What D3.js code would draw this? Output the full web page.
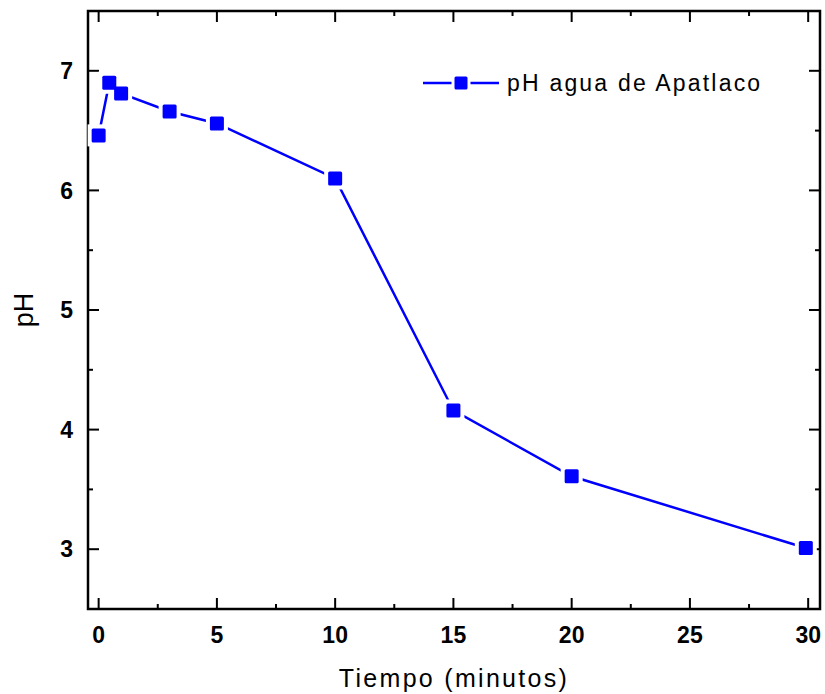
<!DOCTYPE html>
<html>
<head>
<meta charset="utf-8">
<script src="https://cdn.jsdelivr.net/npm/d3@7"></script>
<style>
  html, body { margin: 0; padding: 0; background: #fff; }
  svg { display: block; }
</style>
</head>
<body>
<svg id="chart" width="825" height="694"></svg>
<script>
// pH of Apatlaco water over time
const tiempo = [0, 0.45, 0.95, 3, 5, 10, 15, 20, 29.9];
const ph     = [6.46, 6.90, 6.81, 6.66, 6.56, 6.10, 4.16, 3.61, 3.01];
const xTicks = [0, 5, 10, 15, 20, 25, 30];
const yTicks = [3, 4, 5, 6, 7];
const serieNombre = "pH agua de Apatlaco";
const ejeX = "Tiempo (minutos)";
const ejeY = "pH";

const W = 825, H = 694;
const m = { left: 88, right: 5, top: 11, bottom: 85 };
const blue = "#0000ff";
const font = "'Liberation Sans', Arial, sans-serif";

const svg = d3.select("#chart");

const x = d3.scaleLinear().domain([-0.45, 30.5]).range([m.left, W - m.right]);
const y = d3.scaleLinear().domain([2.5, 7.5]).range([H - m.bottom, m.top]);

const x0 = m.left, x1 = W - m.right, y0 = H - m.bottom, y1 = m.top;

const xMinor = d3.range(0, 30.01, 2.5).filter(v => !xTicks.includes(v));
const yMinor = d3.range(3, 7.51, 0.5).filter(v => !yTicks.includes(v));

// inward ticks on all four sides
function ticks(g, axis, vals, len) {
  g.selectAll(null).data(vals).join("line")
    .attr("stroke", "#000").attr("stroke-width", 2)
    .each(function (v) {
      const s = d3.select(this);
      if (axis === "bottom") s.attr("x1", x(v)).attr("x2", x(v)).attr("y1", y0).attr("y2", y0 - len);
      if (axis === "top")    s.attr("x1", x(v)).attr("x2", x(v)).attr("y1", y1).attr("y2", y1 + len);
      if (axis === "left")   s.attr("y1", y(v)).attr("y2", y(v)).attr("x1", x0).attr("x2", x0 + len);
      if (axis === "right")  s.attr("y1", y(v)).attr("y2", y(v)).attr("x1", x1).attr("x2", x1 - len);
    });
}
const tg = svg.append("g");
["bottom", "top"].forEach(a => { ticks(tg, a, xTicks, 11); ticks(tg, a, xMinor, 5); });
["left", "right"].forEach(a => { ticks(tg, a, yTicks, 11); ticks(tg, a, yMinor, 5); });

// frame
svg.append("rect")
  .attr("x", x0).attr("y", y1).attr("width", x1 - x0).attr("height", y0 - y1)
  .attr("fill", "none").attr("stroke", "#000").attr("stroke-width", 2.5);

// tick labels
svg.append("g").selectAll("text").data(xTicks).join("text")
  .attr("x", d => x(d)).attr("y", y0 + 34)
  .attr("text-anchor", "middle")
  .attr("font-family", font).attr("font-weight", "bold").attr("font-size", 23)
  .text(d => d);

svg.append("g").selectAll("text").data(yTicks).join("text")
  .attr("x", x0 - 15).attr("y", d => y(d))
  .attr("dy", "0.36em")
  .attr("text-anchor", "end")
  .attr("font-family", font).attr("font-weight", "bold").attr("font-size", 23)
  .text(d => d);

// axis titles
svg.append("text")
  .attr("x", (x0 + x1) / 2).attr("y", 687)
  .attr("text-anchor", "middle")
  .attr("font-family", font).attr("font-size", 25)
  .attr("letter-spacing", 2.3)
  .text(ejeX);

svg.append("text")
  .attr("transform", `translate(33, ${(y0 + y1) / 2}) rotate(-90)`)
  .attr("text-anchor", "middle")
  .attr("font-family", font).attr("font-size", 27)
  .text(ejeY);

// series
const pts = tiempo.map((t, i) => [t, ph[i]]);
const line = d3.line().x(d => x(d[0])).y(d => y(d[1]));
const plot = svg.append("g");
plot.append("path").datum(pts)
  .attr("d", line).attr("fill", "none")
  .attr("stroke", blue).attr("stroke-width", 2.5);

const ms = 14, gap = 4;
// white halo keeps the line short of each marker
plot.selectAll("rect.halo").data(pts).join("rect").attr("class", "halo")
  .attr("x", d => x(d[0]) - ms / 2 - gap).attr("y", d => y(d[1]) - ms / 2 - gap)
  .attr("width", ms + 2 * gap).attr("height", ms + 2 * gap)
  .attr("fill", "#fff");
plot.selectAll("rect.mk").data(pts).join("rect").attr("class", "mk")
  .attr("x", d => x(d[0]) - ms / 2).attr("y", d => y(d[1]) - ms / 2)
  .attr("width", ms).attr("height", ms).attr("rx", 1.5)
  .attr("fill", blue);

// legend
const lg = svg.append("g").attr("transform", "translate(423, 83)");
lg.append("line").attr("x1", 0).attr("x2", 76).attr("y1", 0).attr("y2", 0)
  .attr("stroke", blue).attr("stroke-width", 2.5);
lg.append("rect").attr("x", 38 - 6.5 - 3).attr("y", -6.5 - 3).attr("width", 19).attr("height", 19).attr("fill", "#fff");
lg.append("rect").attr("x", 38 - 6.5).attr("y", -6.5).attr("width", 13).attr("height", 13).attr("rx", 1.5).attr("fill", blue);
lg.append("text").attr("x", 84).attr("y", 0).attr("dy", "0.36em")
  .attr("font-family", font).attr("font-size", 23)
  .attr("letter-spacing", 2.2)
  .text(serieNombre);
</script>
</body>
</html>
